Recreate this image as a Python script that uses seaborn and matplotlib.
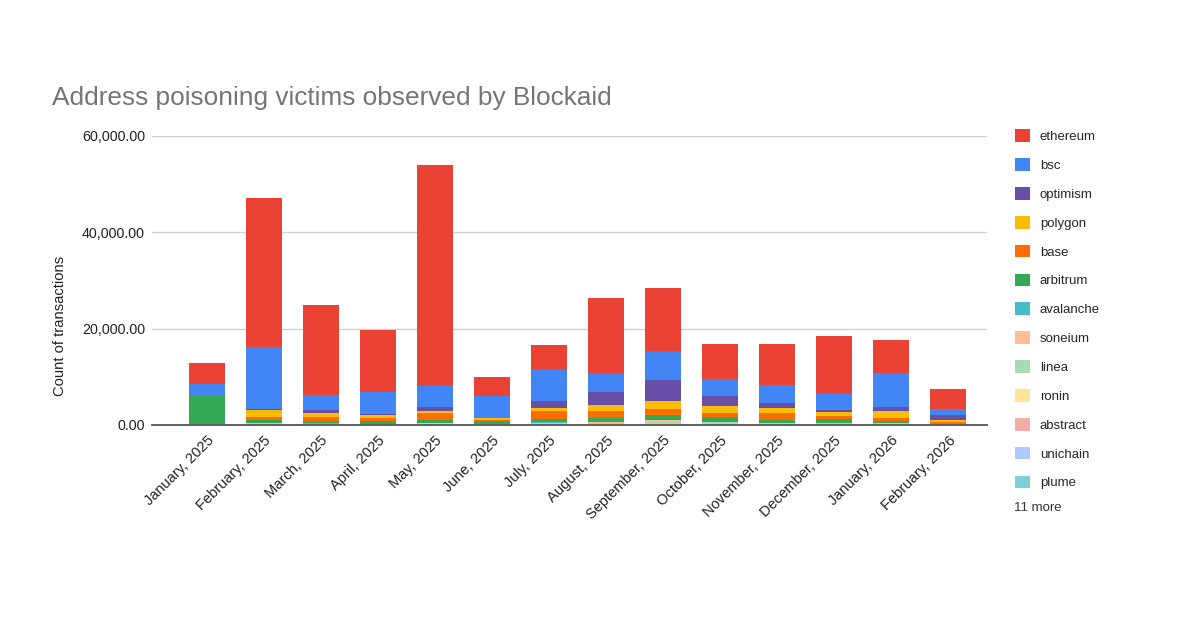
import pandas as pd
import matplotlib
matplotlib.use("Agg")
import matplotlib.pyplot as plt
from matplotlib.patches import Patch
from matplotlib.ticker import FuncFormatter
import seaborn as sns

months = ["January, 2025", "February, 2025", "March, 2025", "April, 2025",
          "May, 2025", "June, 2025", "July, 2025", "August, 2025",
          "September, 2025", "October, 2025", "November, 2025",
          "December, 2025", "January, 2026", "February, 2026"]

# stacked top -> bottom, same order as legend
chains = ["ethereum", "bsc", "optimism", "polygon", "base", "arbitrum",
          "avalanche", "soneium", "linea", "ronin", "abstract", "unichain", "plume"]

ethereum  = [4400, 30950, 18800, 12900, 45800, 3900, 5150, 15500, 13150, 7260, 8440, 11880, 6920, 4220]
bsc       = [2350, 12800, 3110, 4560, 4400, 4600, 6420, 4000, 5870, 3470, 3800, 3320, 7050, 1180]
optimism  = [0, 100, 500, 300, 700, 0, 1450, 2760, 4500, 2010, 1040, 560, 830, 1030]
polygon   = [0, 1450, 900, 500, 500, 300, 500, 1100, 1580, 1590, 1040, 800, 1500, 550]
base      = [0, 600, 800, 600, 1500, 300, 1700, 1600, 1180, 830, 1380, 500, 700, 300]
arbitrum  = [5950, 700, 550, 600, 550, 500, 700, 700, 1040, 900, 600, 900, 300, 100]
avalanche = [20, 60, 80, 40, 90, 40, 100, 150, 150, 90, 60, 60, 50, 20]
soneium   = [0, 20, 30, 20, 40, 20, 40, 60, 60, 40, 30, 30, 30, 10]
linea     = [100, 300, 150, 200, 200, 200, 350, 350, 800, 500, 300, 300, 300, 100]
ronin     = [10, 20, 20, 10, 30, 10, 30, 40, 40, 30, 20, 20, 20, 10]
abstract  = [0, 10, 20, 10, 20, 10, 20, 30, 30, 20, 20, 10, 10, 10]
unichain  = [0, 10, 10, 10, 20, 10, 20, 20, 30, 20, 10, 10, 10, 10]
plume     = [0, 10, 10, 10, 10, 10, 20, 20, 20, 10, 10, 10, 10, 10]

colors = ["#EA4335", "#4285F4", "#674EA7", "#FBBC04", "#FF6D01", "#34A853",
          "#46BDC6", "#FFBE94", "#A8DAB5", "#FDE49B", "#F4ACA6", "#AECBFA", "#7ED1D7"]

series = [ethereum, bsc, optimism, polygon, base, arbitrum, avalanche,
          soneium, linea, ronin, abstract, unichain, plume]

rows = []
for name, vals in zip(chains, series):
    for i, v in enumerate(vals):
        rows.append({"month": i, "chain": name, "count": v})
df = pd.DataFrame(rows)

sns.set_style("white")
plt.rcParams["font.family"] = ["Liberation Sans", "DejaVu Sans"]

fig = plt.figure(figsize=(12, 6.3), dpi=100)
ax = fig.add_axes([152 / 1200, 1 - 425 / 630, (987 - 152) / 1200, (425 - 135.7) / 630])

sns.histplot(data=df, x="month", weights="count", hue="chain", hue_order=chains,
             palette=colors, multiple="stack", discrete=True, shrink=0.63,
             alpha=1, linewidth=0, legend=False, ax=ax)

ax.set_xlim(-0.96, 13.68)
ax.set_ylim(0, 60000)
ax.set_yticks([0, 20000, 40000, 60000])
ax.yaxis.set_major_formatter(FuncFormatter(lambda v, p: f"{v:,.2f}"))
ax.set_xticks(range(len(months)))
ax.set_xticklabels(months, rotation=45, ha="right", rotation_mode="anchor",
                   fontsize=10.5, color="#222222")
ax.tick_params(axis="y", labelsize=10.3, colors="#222222", length=0, pad=5)
ax.tick_params(axis="x", length=0, pad=6)
ax.grid(axis="y", color="#d0d0d0", linewidth=1)
ax.set_axisbelow(True)
for s in ["top", "right", "left"]:
    ax.spines[s].set_visible(False)
ax.spines["bottom"].set_color("#555555")
ax.spines["bottom"].set_linewidth(1.3)
ax.spines["bottom"].set_zorder(5)

ax.set_xlabel("")
ax.set_ylabel("")
fig.text(60 / 1200, 1 - 326 / 630, "Count of transactions", rotation=90,
         ha="center", va="center", fontsize=10.6, color="#222222")

fig.text(52 / 1200, 1 - 98 / 630, "Address poisoning victims observed by Blockaid",
         ha="left", va="center", fontsize=18.9, color="#757575")

handles = [Patch(facecolor=c, edgecolor="none") for c in colors]
fig.legend(handles, chains, loc="upper left", bbox_to_anchor=(1010 / 1200, 1 - 124 / 630),
           frameon=False, fontsize=9.5, handlelength=1.1, handleheight=1.1,
           handletextpad=0.75, labelspacing=1.14, borderaxespad=0)
fig.text(1014 / 1200, 1 - 508 / 630, "11 more", ha="left", va="center",
         fontsize=9.5, color="#333333")

fig.savefig("out.png", dpi=100)
